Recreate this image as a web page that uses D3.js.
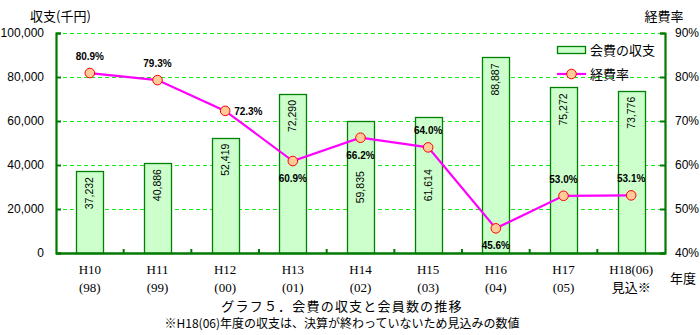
<!DOCTYPE html>
<html>
<head>
<meta charset="utf-8">
<script src="https://cdn.jsdelivr.net/npm/d3@7/dist/d3.min.js"></script>
<style>
  html, body { margin: 0; padding: 0; background: #fff; }
  svg { display: block; }
  text { fill: #000; }
</style>
</head>
<body>
<svg id="chart" width="700" height="335"></svg>
<script>
// Fiscal years (Heisei era, with western year in parentheses)
const categories = ["H10", "H11", "H12", "H13", "H14", "H15", "H16", "H17", "H18"];
const categoryLine1 = ["H10", "H11", "H12", "H13", "H14", "H15", "H16", "H17", "H18(06)"];
const categoryLine2 = ["(98)", "(99)", "(00)", "(01)", "(02)", "(03)", "(04)", "(05)", "見込※"];

// Membership fee balance (thousand yen)
const feeBalance = [37232, 40886, 52419, 72290, 59835, 61614, 88887, 75272, 73776];
// Expense ratio (%)
const expenseRate = [80.9, 79.3, 72.3, 60.9, 66.2, 64.0, 45.6, 53.0, 53.1];
// Where each ratio label sits relative to its marker
const rateLabelSide = ["above", "above", "right", "below", "below", "above", "below", "above", "above"];

const leftTicks = [0, 20000, 40000, 60000, 80000, 100000];
const rightTicks = [40, 50, 60, 70, 80, 90];

const seriesNames = ["会費の収支", "経費率"];

const svg = d3.select("#chart");
const jpFont = "'Noto Sans CJK JP', sans-serif";
const numFont = "'Liberation Sans', Arial, sans-serif";

const plot = { left: 56, right: 665, top: 33, bottom: 253 };
const axisGreen = "#007a00";
const gridGreen = "#11ee11";

const x = d3.scaleBand().domain(categories).range([plot.left, plot.right]);
const yL = d3.scaleLinear().domain([0, 100000]).range([plot.bottom, plot.top]);
const yR = d3.scaleLinear().domain([40, 90]).range([plot.bottom, plot.top]);
const barW = x.bandwidth() * 0.4;
const cx = c => x(c) + x.bandwidth() / 2;

// Horizontal dashed gridlines
svg.append("g").selectAll("line")
  .data(leftTicks.filter(t => t > 0))
  .join("line")
  .attr("x1", plot.left).attr("x2", plot.right)
  .attr("y1", d => yL(d) + 0.5).attr("y2", d => yL(d) + 0.5)
  .attr("stroke", gridGreen).attr("stroke-width", 1.2)
  .attr("stroke-dasharray", "4,3");

// Bars
svg.append("g").selectAll("rect")
  .data(feeBalance)
  .join("rect")
  .attr("x", (d, i) => Math.round(x(categories[i]) + (x.bandwidth() - barW) / 2) + 0.5)
  .attr("y", d => Math.round(yL(d)) + 0.5)
  .attr("width", Math.round(barW))
  .attr("height", d => plot.bottom - Math.round(yL(d)))
  .attr("fill", "#ccffcc")
  .attr("stroke", "#008000")
  .attr("stroke-width", 1.3);

// Bar value labels, rotated; placed just inside the bar top, or centred in the
// bar when the ratio marker would sit on top of them.
const labelLen = 32;
svg.append("g").selectAll("text")
  .data(feeBalance)
  .join("text")
  .attr("transform", (d, i) => {
    const top = yL(d);
    const my = yR(expenseRate[i]);
    const clash = my > top - 20 && my < top + labelLen + 10;
    const start = clash ? (top + plot.bottom) / 2 - labelLen / 2 : top + 6;
    return `translate(${cx(categories[i]) + 3.5},${start}) rotate(-90)`;
  })
  .attr("text-anchor", "end")
  .attr("font-family", numFont)
  .attr("font-size", 10.5)
  .text(d => d3.format(",")(d));

// Left axis
const leftAxis = d3.axisLeft(yL).tickValues(leftTicks).tickFormat(d3.format(",")).tickSize(-5).tickPadding(12);
const gL = svg.append("g").attr("transform", `translate(${plot.left},0)`).call(leftAxis);
gL.select(".domain").attr("stroke", axisGreen).attr("stroke-width", 2.2);
gL.selectAll(".tick line").attr("stroke", axisGreen).attr("stroke-width", 2);
gL.selectAll(".tick text").attr("font-family", numFont).attr("font-size", 12).attr("fill", "#000");

// Right axis
const rightAxis = d3.axisRight(yR).tickValues(rightTicks).tickFormat(d => d + "%").tickSize(-5).tickPadding(10);
const gR = svg.append("g").attr("transform", `translate(${plot.right},0)`).call(rightAxis);
gR.select(".domain").attr("stroke", axisGreen).attr("stroke-width", 2.2);
gR.selectAll(".tick line").attr("stroke", axisGreen).attr("stroke-width", 2);
gR.selectAll(".tick text").attr("font-family", numFont).attr("font-size", 12).attr("fill", "#000");

// Bottom axis: baseline with small upward ticks at category boundaries
const bottomAxis = d3.axisBottom(x).tickSize(0).tickFormat("");
const gB = svg.append("g").attr("transform", `translate(0,${plot.bottom})`).call(bottomAxis);
gB.select(".domain").attr("stroke", axisGreen).attr("stroke-width", 2.4);
gB.selectAll(".boundary")
  .data(categories.slice(1))
  .join("line")
  .attr("x1", c => x(c)).attr("x2", c => x(c))
  .attr("y1", 0).attr("y2", -4)
  .attr("stroke", axisGreen).attr("stroke-width", 2);

// Category labels (two lines)
const catG = svg.append("g").attr("font-family", "'Liberation Serif', serif").attr("font-size", 13).attr("text-anchor", "middle");
categories.forEach((c, i) => {
  catG.append("text").attr("x", cx(c)).attr("y", 274).text(categoryLine1[i]);
  catG.append("text").attr("x", cx(c)).attr("y", 292).attr("font-family", i === 8 ? jpFont : null).text(categoryLine2[i]);
});

// Expense ratio line
const line = d3.line().x((d, i) => cx(categories[i])).y(d => yR(d));
svg.append("path")
  .datum(expenseRate)
  .attr("d", line)
  .attr("fill", "none")
  .attr("stroke", "#ff00ff")
  .attr("stroke-width", 2.2);

svg.append("g").selectAll("circle")
  .data(expenseRate)
  .join("circle")
  .attr("cx", (d, i) => cx(categories[i]))
  .attr("cy", d => yR(d))
  .attr("r", 4.8)
  .attr("fill", "#ffcc99")
  .attr("stroke", "#ff0000")
  .attr("stroke-width", 1);

// Ratio labels
svg.append("g").selectAll("text")
  .data(expenseRate)
  .join("text")
  .attr("x", (d, i) => rateLabelSide[i] === "right" ? cx(categories[i]) + 9 : cx(categories[i]))
  .attr("y", (d, i) => {
    const py = yR(d);
    if (rateLabelSide[i] === "above") return py - 13;
    if (rateLabelSide[i] === "below") return py + 21;
    return py + 4;
  })
  .attr("text-anchor", (d, i) => rateLabelSide[i] === "right" ? "start" : "middle")
  .attr("font-family", numFont)
  .attr("font-size", 10)
  .attr("font-weight", "bold")
  .text(d => d.toFixed(1) + "%");

// Legend
const lg = svg.append("g").attr("font-family", jpFont).attr("font-size", 13);
lg.append("rect").attr("x", 557.5).attr("y", 46.5).attr("width", 28).attr("height", 7)
  .attr("fill", "#ccffcc").attr("stroke", "#008000").attr("stroke-width", 1.3);
lg.append("text").attr("x", 590).attr("y", 55).text(seriesNames[0]);
lg.append("line").attr("x1", 557).attr("x2", 586).attr("y1", 74).attr("y2", 74)
  .attr("stroke", "#ff00ff").attr("stroke-width", 2.2);
lg.append("circle").attr("cx", 571.5).attr("cy", 74).attr("r", 4.8)
  .attr("fill", "#ffcc99").attr("stroke", "#ff0000").attr("stroke-width", 1);
lg.append("text").attr("x", 590).attr("y", 79).text(seriesNames[1]);

// Axis titles
const tg = svg.append("g").attr("font-family", jpFont).attr("font-size", 13);
tg.append("text").attr("x", 30).attr("y", 21).text("収支(千円)");
tg.append("text").attr("x", 664).attr("y", 21).attr("text-anchor", "middle").text("経費率");
tg.append("text").attr("x", 683).attr("y", 283).attr("text-anchor", "middle").text("年度");

// Caption
svg.append("text").attr("x", 342).attr("y", 311).attr("text-anchor", "middle")
  .attr("font-family", jpFont).attr("font-size", 13).attr("letter-spacing", 1.2)
  .text("グラフ５．会費の収支と会員数の推移");
svg.append("text").attr("x", 342).attr("y", 328).attr("text-anchor", "middle")
  .attr("font-family", jpFont).attr("font-size", 12)
  .text("※H18(06)年度の収支は、決算が終わっていないため見込みの数値");
</script>
</body>
</html>
